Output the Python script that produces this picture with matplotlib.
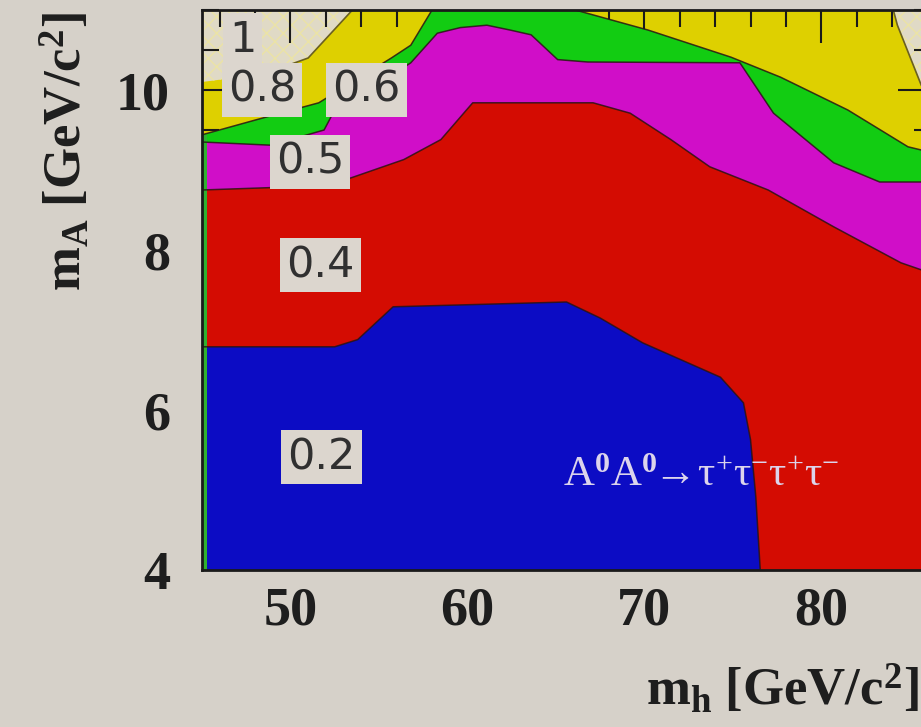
import matplotlib
matplotlib.use("Agg")
import matplotlib.pyplot as plt
from matplotlib.ticker import MultipleLocator

# ---- data ----
xlim = (45.0, 86.2)
ylim = (4.0, 11.0)

# boundary of the 0.2 (blue) region
mh_blue = [45.0, 52.5, 53.8, 55.8, 65.6, 67.5, 69.9, 74.3, 75.6, 76.0, 76.3, 76.55]
mA_blue = [6.79, 6.79, 6.88, 7.29, 7.35, 7.15, 6.84, 6.41, 6.09, 5.63, 4.91, 4.0]
# upper boundary of the 0.4 (red) region
mh_red = [45.0, 48.9, 53.4, 56.4, 58.5, 60.3, 67.1, 69.2, 71.5, 73.7, 77.0, 80.7, 84.5, 86.2]
mA_red = [8.75, 8.78, 8.90, 9.13, 9.38, 9.84, 9.84, 9.71, 9.38, 9.04, 8.75, 8.29, 7.84, 7.71]
# upper boundary of the 0.5 (magenta) region
mh_mag = [45.0, 48.9, 51.9, 52.4, 56.8, 58.3, 59.6, 61.1, 62.4, 63.6, 65.1, 66.8, 75.4, 77.3, 80.7, 83.3, 86.2]
mA_mag = [9.35, 9.31, 9.50, 9.71, 10.34, 10.71, 10.78, 10.81, 10.75, 10.69, 10.38, 10.35, 10.34, 9.71, 9.09, 8.85, 8.85]
# upper boundary of the 0.6 (green) region
mh_grn = [45.0, 48.1, 51.6, 55.7, 56.8, 58.0, 66.1, 70.2, 74.9, 77.7, 81.5, 84.9, 85.65, 86.2]
mA_grn = [9.44, 9.63, 9.84, 10.40, 10.56, 11.0, 11.0, 10.75, 10.41, 10.16, 9.75, 9.29, 9.25, 9.21]
# 1.0 regions (beige, hatched)
mh_one_left = [45.0, 53.5, 51.0, 48.5, 45.0]
mA_one_left = [11.0, 11.0, 10.4, 10.2, 10.1]
mh_one_right = [84.07, 84.3, 84.75, 85.2, 85.65, 86.2, 86.2]
mA_one_right = [11.0, 10.81, 10.56, 10.31, 10.06, 9.875, 11.0]
# thin green strip along left edge
strip_x = [45.0, 45.3]
strip_top = 9.44

region_labels = ["1", "0.8", "0.6", "0.5", "0.4", "0.2"]
label_x = [47.3, 48.4, 54.3, 51.1, 51.7, 51.75]
label_y = [10.62, 10.0, 10.0, 9.1, 7.81, 5.41]

xticks = [50, 60, 70, 80]
yticks = [4, 6, 8, 10]

# ---- style ----
BG = "#d6d1c9"
BOX = "#dcd6ce"
C_BLUE = "#0c0cc4"
C_RED = "#d40c02"
C_MAG = "#d00ec8"
C_GRN = "#12cc12"
C_YEL = "#ded000"
C_ONE = "#e0dac6"
LINE = "#2a1414"

plt.rcParams["mathtext.fontset"] = "custom"
plt.rcParams["mathtext.rm"] = "Liberation Serif"
plt.rcParams["mathtext.it"] = "Liberation Serif:italic"
plt.rcParams["mathtext.bf"] = "Liberation Serif:bold"
plt.rcParams["hatch.linewidth"] = 1.0

fig = plt.figure(figsize=(9.21, 7.27), dpi=100, facecolor=BG)
ax = fig.add_axes([202 / 921, 157 / 727, 729 / 921, 560 / 727])
ax.set_facecolor(C_YEL)
ax.set_xlim(*xlim)
ax.set_ylim(*ylim)

x0, x1 = xlim
y0, y1 = ylim

# beige 1.0 regions
ax.fill(mh_one_left, mA_one_left, facecolor=C_ONE, edgecolor="#ebe3a6", hatch="xx", lw=0, zorder=1)
ax.fill(mh_one_right, mA_one_right, facecolor=C_ONE, edgecolor="#ebe3a6", hatch="xx", lw=0, zorder=1)
ax.plot(mh_one_left[1:4], mA_one_left[1:4], color="#6a6020", lw=1.2, zorder=3)
ax.plot(mh_one_right[:6], mA_one_right[:6], color="#6a6020", lw=1.2, zorder=3)

# nested filled regions
for xs, ys, col in [(mh_grn, mA_grn, C_GRN), (mh_mag, mA_mag, C_MAG), (mh_red, mA_red, C_RED)]:
    ax.fill(list(xs) + [x1, x0], list(ys) + [y0, y0], color=col, lw=0, zorder=2)
ax.fill(list(mh_blue) + [x0], list(mA_blue) + [y0], color=C_BLUE, lw=0, zorder=2)
ax.fill_betweenx([y0, strip_top], strip_x[0], strip_x[1], color="#30b030", lw=0, zorder=2.5)

for xs, ys in [(mh_grn, mA_grn), (mh_mag, mA_mag), (mh_red, mA_red), (mh_blue, mA_blue)]:
    ax.plot(xs, ys, color=LINE, lw=1.1, alpha=0.85, zorder=3)

for t, x, y in zip(region_labels, label_x, label_y):
    ax.text(x, y, t, fontsize=31, family="DejaVu Sans", color="#303030", ha="center", va="center",
            zorder=5, bbox=dict(boxstyle="square,pad=0.14", fc=BOX, ec="none"))

ax.text(73.2, 5.2, r"$\mathrm{A^{\mathbf{0}}A^{\mathbf{0}}\!\!\rightarrow\!\tau^{+}\tau^{-}\tau^{+}\tau^{-}}$",
        fontsize=31, color="#dcd4ec", ha="center", va="center", zorder=5)

# axes, ticks
ax.set_xticks(xticks)
ax.set_yticks(yticks)
ax.xaxis.set_minor_locator(MultipleLocator(2))
ax.yaxis.set_minor_locator(MultipleLocator(0.5))
ax.tick_params(which="both", direction="in", top=True, right=True, colors="#1a1a1a", width=1.5, zorder=6)
ax.tick_params(which="major", length=24)
ax.tick_params(which="minor", length=12)
ax.tick_params(axis="x", which="major", pad=12)
ax.tick_params(axis="y", which="major", pad=23)
for lab in ax.get_xticklabels() + ax.get_yticklabels():
    lab.set_family("Liberation Serif")
    lab.set_weight("bold")
    lab.set_fontsize(39)
    lab.set_color("#1e1e1e")
for sp in ax.spines.values():
    sp.set_linewidth(2)
    sp.set_color("#1a1a1a")
    sp.set_zorder(7)

fig.text(66 / 921, 1 - 12 / 727, r"$\mathbf{m_A\ [GeV/c^2]}$", rotation=90, fontsize=38,
         ha="center", va="top", color="#1e1e1e")
fig.text(919 / 921, 1 - 690 / 727, r"$\mathbf{m_h\ [GeV/c^2]}$", fontsize=38,
         ha="right", va="center", color="#1e1e1e")

fig.savefig("out.png", dpi=100, facecolor=BG)
